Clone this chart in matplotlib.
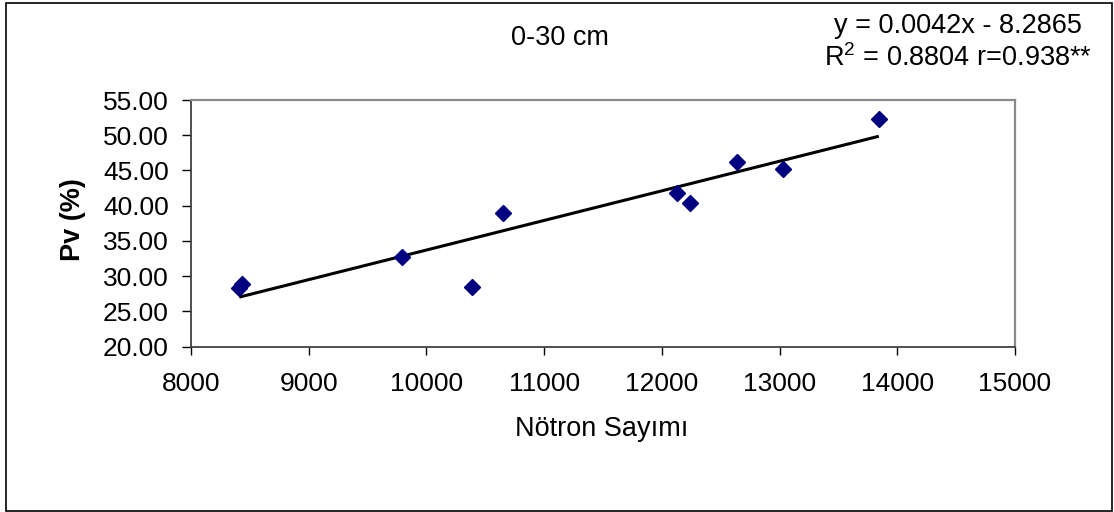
import numpy as np
import matplotlib
matplotlib.use('Agg')
import matplotlib.pyplot as plt
from matplotlib.patches import Rectangle
from matplotlib.ticker import FormatStrFormatter

plt.rcParams['font.family'] = ['Liberation Sans', 'DejaVu Sans']
plt.rcParams['mathtext.fontset'] = 'custom'
plt.rcParams['mathtext.rm'] = 'Liberation Sans'
plt.rcParams['mathtext.it'] = 'Liberation Sans:italic'

# Neutron count vs. volumetric moisture, 0-30 cm layer
notron = [8410, 8431, 9795, 10390, 10653, 12132, 12240, 12636, 13032, 13843]
pv = [28.28, 28.85, 32.77, 28.51, 39.00, 41.84, 40.43, 46.16, 45.20, 52.30]

# trendline as printed on the chart
slope = 0.0042
intercept = -8.2865
eq_line1 = 'y = 0.0042x - 8.2865'
eq_line2 = r'R$^{2}$ = 0.8804 r=0.938**'

title = '0-30 cm'
xlabel = 'Nötron Sayımı'
ylabel = 'Pv (%)'
xticks = list(range(8000, 15001, 1000))
yticks = [20, 25, 30, 35, 40, 45, 50, 55]

W, H = 1114, 512
fig = plt.figure(figsize=(W/100, H/100), dpi=100)
ax = fig.add_axes([191/W, 1-346.7/H, (1015-191)/W, (346.7-100)/H])

xs = np.array([min(notron), max(notron)])
ax.plot(xs, slope*xs + intercept, color='black', lw=2.2, solid_capstyle='butt', zorder=2)
ax.plot(notron, pv, 'D', color='#000080', ms=8, mec='#000080', zorder=3)

ax.set_xlim(8000, 15000)
ax.set_ylim(20, 55)
ax.set_xticks(xticks)
ax.set_yticks(yticks)
ax.yaxis.set_major_formatter(FormatStrFormatter('%.2f'))

fs = 19
ax.tick_params(axis='x', direction='out', length=5.5, width=1, labelsize=fs, pad=13, color='black')
ax.tick_params(axis='y', direction='out', length=6.5, width=1, labelsize=fs, pad=9.5, color='black')
for side in ['left', 'bottom']:
    ax.spines[side].set_color('#404040')
    ax.spines[side].set_linewidth(1.3)
for side in ['top', 'right']:
    ax.spines[side].set_color('#8a8a8a')
    ax.spines[side].set_linewidth(1.6)

fs_txt = 19.5
fig.text(602/W, 1-436.5/H, xlabel, ha='center', va='baseline', fontsize=fs_txt)
fig.text(80.5/W, 1-220/H, ylabel, ha='center', va='baseline', rotation=90,
         fontsize=fs_txt, fontweight='bold', rotation_mode='anchor')
fig.text(560/W, 1-45/H, title, ha='center', va='baseline', fontsize=fs_txt)
fig.text(958/W, 1-33/H, eq_line1, ha='center', va='baseline', fontsize=fs_txt)
fig.text(958/W, 1-66/H, eq_line2, ha='center', va='baseline', fontsize=fs_txt)

# outer chart border
fig.patches.append(Rectangle((6/W, 1-510.7/H), (1112-6)/W, (510.7-3)/H,
                             transform=fig.transFigure, fill=False,
                             edgecolor='black', lw=1.2))

fig.savefig('out.png', dpi=100)
